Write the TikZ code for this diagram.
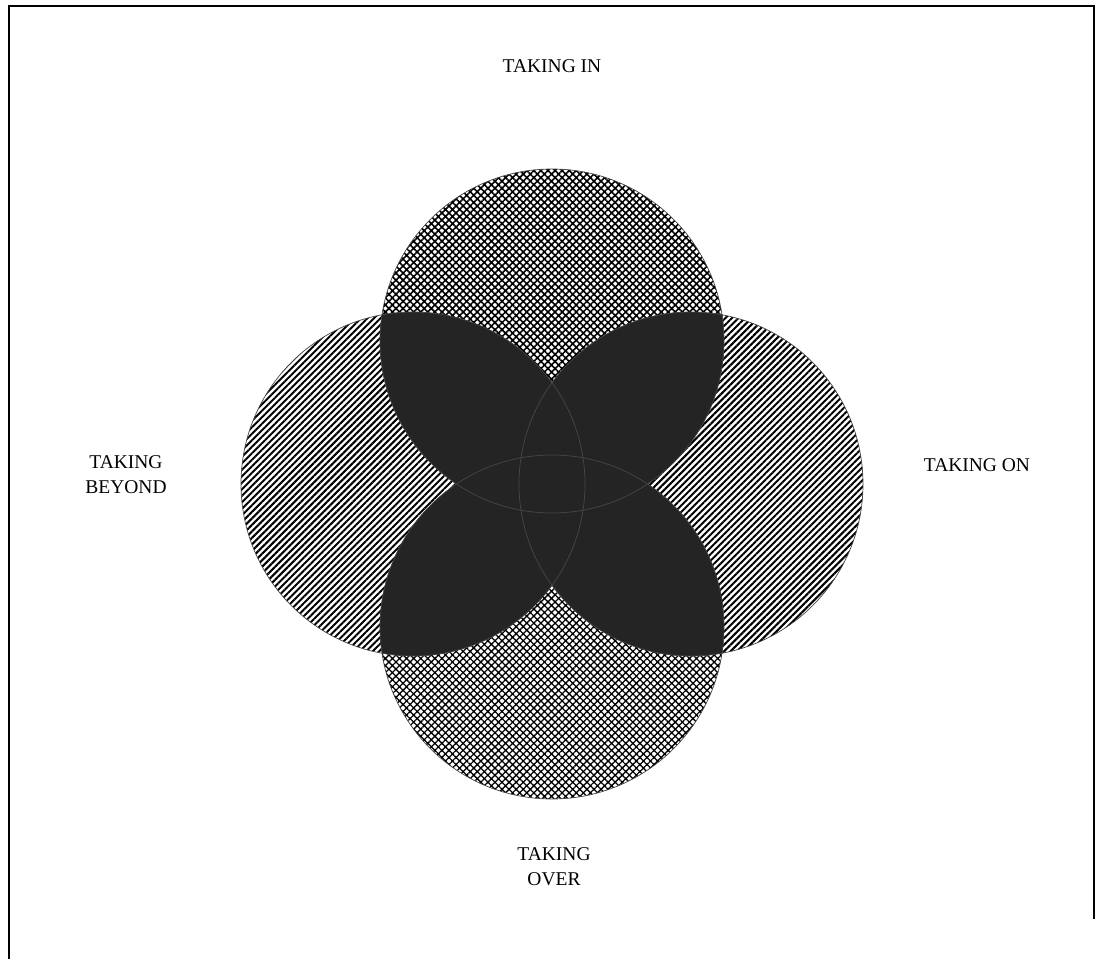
\documentclass[tikz,border=0pt]{standalone}
\usepackage{fontspec}
\setmainfont{Liberation Serif}
\usepackage{tikz}
\usetikzlibrary{patterns.meta}

\begin{document}
\begin{tikzpicture}[x=1pt, y=-1pt,
  ring/.style={circle, minimum size=344pt, inner sep=0pt},
  overlap/.style={fill=black!86},
  rim/.style={draw=black!72, line width=0.7pt},
  label/.style={align=center, font=\fontsize{19.5}{25}\selectfont},
  frame/.style={line width=1.8pt, black}
]
  \useasboundingbox (0,0) rectangle (1096,959);
  \draw[frame] (9,959) -- (9,6) -- (1094,6) -- (1094,919);

  \node[ring, pattern={Lines[angle=45, distance=4.6pt, line width=2pt]}] (beyond) at (413,484) {};
  \node[ring, pattern={Lines[angle=45, distance=4.6pt, line width=2pt]}] (onward) at (691,484) {};
  \node[ring, pattern={Hatch[angle=45, distance=5pt, line width=1.6pt]}] (intake) at (552,341) {};
  \node[ring, pattern={Hatch[angle=45, distance=5pt, line width=1.3pt]}] (over) at (552,627) {};

  % dark lenses where the circles meet
  \begin{scope}
    \clip (intake.center) circle[radius=172pt];
    \fill[overlap] (beyond.center) circle[radius=172pt];
    \fill[overlap] (onward.center) circle[radius=172pt];
  \end{scope}
  \begin{scope}
    \clip (over.center) circle[radius=172pt];
    \fill[overlap] (beyond.center) circle[radius=172pt];
    \fill[overlap] (onward.center) circle[radius=172pt];
  \end{scope}

  \foreach \c in {beyond, onward, intake, over}
    \draw[rim] (\c.center) circle[radius=172pt];

  \node[label] (lin) at (552,66) {TAKING IN};
  \node[label] (lon) at (977,465) {TAKING ON};
  \node[label] (lbeyond) at (126,475) {TAKING\\BEYOND};
  \node[label] (lover) at (554,867) {TAKING\\OVER};
\end{tikzpicture}
\end{document}
